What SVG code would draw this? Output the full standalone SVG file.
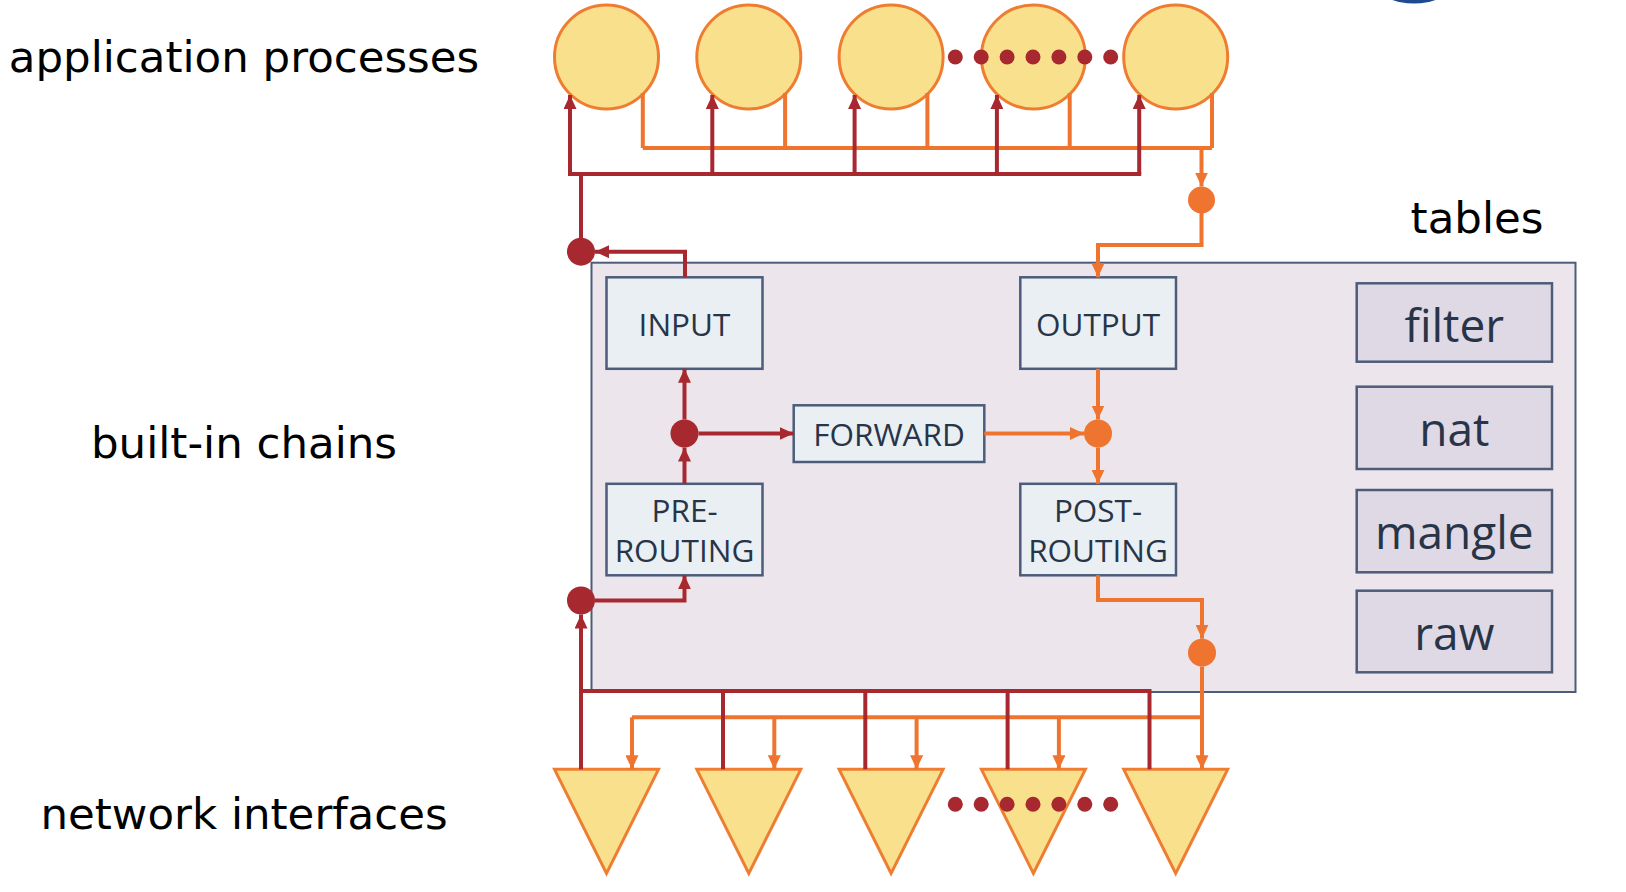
<svg xmlns="http://www.w3.org/2000/svg" width="1626" height="892" viewBox="0 0 1626 892">
<style>
.lbl{font-family:"DejaVu Sans",sans-serif;font-size:43.5px;fill:#000;text-anchor:middle}
.chain rect{fill:#E9EFF3;stroke:#4C5C7A;stroke-width:2.5}
.tbl rect{fill:#DFD9E5;stroke:#4C5C7A;stroke-width:2.5}
.ct{font-family:"Open Sans","Noto Sans",sans-serif;font-size:31.5px;fill:#283447;text-anchor:middle}
.tt{font-family:"Open Sans","Noto Sans",sans-serif;font-size:46px;fill:#283447;text-anchor:middle}
.proc{fill:#F9E08C;stroke:#EF7D31;stroke-width:3}
.red{fill:none;stroke:#A8282F;stroke-width:4}
.org{fill:none;stroke:#EE7430;stroke-width:4}
.ra{marker-end:url(#ar)}
.oa{marker-end:url(#ao)}
.rd{fill:#A8282F}
.od{fill:#EE7430}
</style>
<defs>
<marker id="ar" markerUnits="userSpaceOnUse" markerWidth="14" markerHeight="13" refX="14" refY="6.5" orient="auto"><path d="M0,0 L14,6.5 L0,13 z" fill="#A8282F"/></marker>
<marker id="ao" markerUnits="userSpaceOnUse" markerWidth="14" markerHeight="13" refX="14" refY="6.5" orient="auto"><path d="M0,0 L14,6.5 L0,13 z" fill="#EE7430"/></marker>
</defs>
<rect width="1626" height="892" fill="#fff"/>
<circle cx="1414" cy="-65" r="68.5" fill="#1F4A8F"/>

<g id="labels">
<text class="lbl" x="244" y="72">application processes</text>
<text class="lbl" x="244" y="458">built-in chains</text>
<text class="lbl" x="244" y="829">network interfaces</text>
<text class="lbl" x="1477" y="233">tables</text>
</g>

<g id="kernel">
<rect x="591.5" y="262.7" width="984" height="429.3" fill="#ECE6EC" stroke="#4C5C7A" stroke-width="2"/>
</g>

<g id="processes">
<circle class="proc" cx="606.5" cy="57" r="52"/>
<circle class="proc" cx="748.8" cy="57" r="52"/>
<circle class="proc" cx="891.1" cy="57" r="52"/>
<circle class="proc" cx="1033.4" cy="57" r="52"/>
<circle class="proc" cx="1175.7" cy="57" r="52"/>
</g>

<g id="interfaces">
<polygon class="proc" points="554.5,769.3 658.5,769.3 606.5,873.3"/>
<polygon class="proc" points="696.8,769.3 800.8,769.3 748.8,873.3"/>
<polygon class="proc" points="839.1,769.3 943.1,769.3 891.1,873.3"/>
<polygon class="proc" points="981.4,769.3 1085.4,769.3 1033.4,873.3"/>
<polygon class="proc" points="1123.7,769.3 1227.7,769.3 1175.7,873.3"/>
</g>

<g id="ellipsis">
<circle class="rd" cx="955.3" cy="57" r="7.5"/><circle class="rd" cx="981.2" cy="57" r="7.5"/><circle class="rd" cx="1007.1" cy="57" r="7.5"/><circle class="rd" cx="1033" cy="57" r="7.5"/><circle class="rd" cx="1058.9" cy="57" r="7.5"/><circle class="rd" cx="1084.8" cy="57" r="7.5"/><circle class="rd" cx="1110.7" cy="57" r="7.5"/>
<circle class="rd" cx="955.3" cy="804.3" r="7.5"/><circle class="rd" cx="981.2" cy="804.3" r="7.5"/><circle class="rd" cx="1007.1" cy="804.3" r="7.5"/><circle class="rd" cx="1033" cy="804.3" r="7.5"/><circle class="rd" cx="1058.9" cy="804.3" r="7.5"/><circle class="rd" cx="1084.8" cy="804.3" r="7.5"/><circle class="rd" cx="1110.7" cy="804.3" r="7.5"/>
</g>

<g id="chain-input" class="chain"><rect x="606.5" y="277.3" width="156" height="91.5"/><text class="ct" x="684.5" y="336">INPUT</text></g>
<g id="chain-output" class="chain"><rect x="1020.3" y="277.3" width="155.7" height="91.5"/><text class="ct" x="1098" y="336">OUTPUT</text></g>
<g id="chain-forward" class="chain"><rect x="793.7" y="405.3" width="190.6" height="56.7"/><text class="ct" x="889" y="445.7">FORWARD</text></g>
<g id="chain-prerouting" class="chain"><rect x="606.5" y="483.8" width="156" height="91.5"/><text class="ct" x="684.5" y="522.3">PRE-</text><text class="ct" x="684.5" y="561.7">ROUTING</text></g>
<g id="chain-postrouting" class="chain"><rect x="1020.3" y="483.8" width="155.7" height="91.5"/><text class="ct" x="1098" y="522.3">POST-</text><text class="ct" x="1098" y="561.7">ROUTING</text></g>

<g id="table-filter" class="tbl"><rect x="1356.7" y="283.3" width="195.3" height="78.4"/><text class="tt" x="1454.3" y="341.7">filter</text></g>
<g id="table-nat" class="tbl"><rect x="1356.7" y="386.7" width="195.3" height="82.3"/><text class="tt" x="1454.3" y="445.7">nat</text></g>
<g id="table-mangle" class="tbl"><rect x="1356.7" y="490" width="195.3" height="82.3"/><text class="tt" x="1454.3" y="549.3">mangle</text></g>
<g id="table-raw" class="tbl"><rect x="1356.7" y="590.7" width="195.3" height="81.6"/><text class="tt" x="1454.3" y="650">raw</text></g>

<g id="connectors">
<path class="org" d="M642.8,93 V148 M785.1,93 V148 M927.4,93 V148 M1069.7,93 V148 M1212,93 V148 M642.8,148 H1212"/>
<path class="org oa" d="M1201.5,148 V186.5"/>
<path class="org oa" d="M1201.5,213 V245 H1098 V277.3"/>
<path class="org oa" d="M1098,368.8 V419.5"/>
<path class="org oa" d="M984.3,433.5 H1084"/>
<path class="org oa" d="M1098,447.5 V483.8"/>
<path class="org oa" d="M1098,575.3 V600 H1202 V638.7"/>
<path class="org oa" d="M1202,666.7 V769.3"/>
<path class="org" d="M632,717.3 H1202"/>
<path class="org oa" d="M632,717.3 V769.3"/>
<path class="org oa" d="M774.3,717.3 V769.3"/>
<path class="org oa" d="M916.6,717.3 V769.3"/>
<path class="org oa" d="M1058.9,717.3 V769.3"/>

<path class="red ra" d="M570,174 V95"/>
<path class="red ra" d="M712.3,174 V95"/>
<path class="red ra" d="M854.6,174 V95"/>
<path class="red ra" d="M996.9,174 V95"/>
<path class="red ra" d="M1139.2,174 V95"/>
<path class="red" d="M568,174 H1141.2 M581,174 V240"/>
<path class="red ra" d="M685,277.3 V251.7 H595"/>
<path class="red ra" d="M684.5,483.8 V447.5"/>
<path class="red ra" d="M684.5,419.5 V368.8"/>
<path class="red ra" d="M698.5,433.5 H793.7"/>
<path class="red ra" d="M595,600.5 H684.5 V575.3"/>
<path class="red ra" d="M581,769.3 V614.5"/>
<path class="red" d="M579,691 H1151.5 M723,691 V769.3 M865.3,691 V769.3 M1007.6,691 V769.3 M1149.5,691 V769.3"/>

<circle class="rd" cx="581" cy="251.7" r="14"/>
<circle class="rd" cx="684.5" cy="433.5" r="14"/>
<circle class="rd" cx="581" cy="600.5" r="14"/>
<circle class="od" cx="1201.5" cy="200" r="13.5"/>
<circle class="od" cx="1098" cy="433.5" r="14"/>
<circle class="od" cx="1202" cy="652.7" r="14"/>
</g>
</svg>
